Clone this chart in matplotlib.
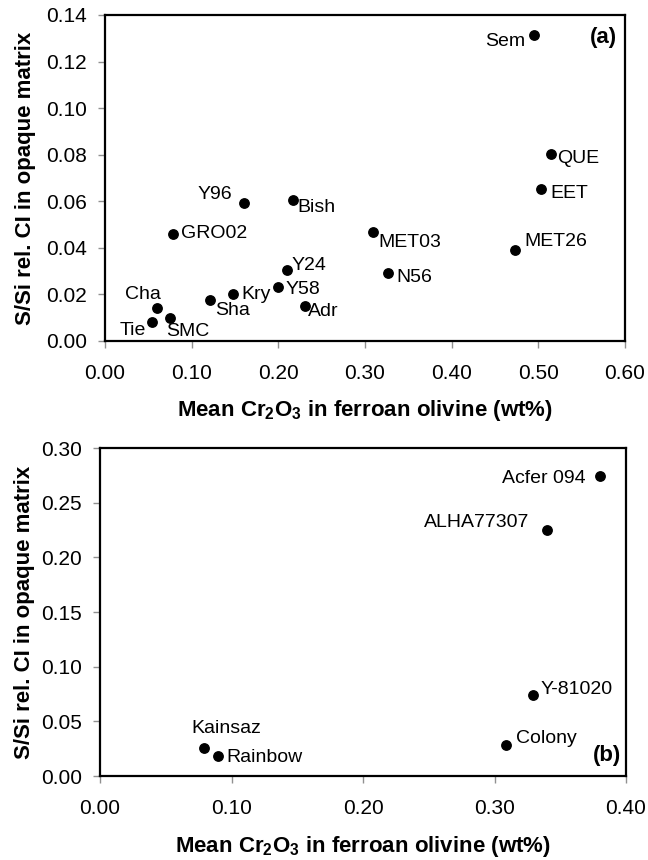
import matplotlib
matplotlib.use("Agg")
import matplotlib.pyplot as plt

plt.rcParams["font.family"] = ["Liberation Sans", "DejaVu Sans"]
plt.rcParams["mathtext.fontset"] = "custom"
plt.rcParams["mathtext.rm"] = "Liberation Sans:bold"
plt.rcParams["mathtext.bf"] = "Liberation Sans:bold"
plt.rcParams["mathtext.default"] = "bf"

# panel (a): CM/CO/CR-type chondrites
a_names = ["Sem", "QUE", "EET", "MET26", "MET03", "N56", "Y96", "Bish", "GRO02",
           "Y24", "Y58", "Kry", "Sha", "Adr", "Cha", "SMC", "Tie"]
a_cr2o3 = [0.495, 0.515, 0.503, 0.473, 0.309, 0.327, 0.160, 0.217, 0.079,
           0.210, 0.200, 0.148, 0.121, 0.231, 0.060, 0.075, 0.054]
a_ssi = [0.1314, 0.0802, 0.0652, 0.0390, 0.0469, 0.0292, 0.0592, 0.0605, 0.0460,
         0.0304, 0.0232, 0.0203, 0.0178, 0.0149, 0.0140, 0.0099, 0.0080]

# panel (b)
b_names = ["Acfer 094", "ALHA77307", "Y-81020", "Colony", "Kainsaz", "Rainbow"]
b_cr2o3 = [0.380, 0.340, 0.329, 0.309, 0.079, 0.090]
b_ssi = [0.2746, 0.2252, 0.0742, 0.0284, 0.0253, 0.0186]

# label placement: (dx pt, dy pt, ha)
a_offsets = {
    "Sem": (-6, -5, "right"), "QUE": (4, -3, "left"), "EET": (7, -3, "left"),
    "MET26": (7, 6, "left"), "MET03": (4, -8, "left"), "N56": (6, -3, "left"),
    "Y96": (-8, 6.5, "right"), "Bish": (3, -5, "left"), "GRO02": (5.5, 0, "left"),
    "Y24": (3.5, 3.5, "left"), "Y58": (5, -2, "left"), "Kry": (6, -0.5, "left"),
    "Sha": (4, -8, "left"), "Adr": (2, -4, "left"), "Cha": (3, 10, "right"),
    "SMC": (-3, -9.5, "left"), "Tie": (-4, -6, "right"),
}
b_offsets = {
    "Acfer 094": (-10, -2, "right"), "ALHA77307": (-13, 5, "right"),
    "Y-81020": (6, 4, "left"), "Colony": (7, 5, "left"),
    "Kainsaz": (16, 14, "center"), "Rainbow": (6, -1, "left"),
}

W, H = 648, 860
fig = plt.figure(figsize=(W / 100, H / 100), dpi=100)


def px_axes(left, top, right, bottom):
    return fig.add_axes([left / W, 1 - bottom / H, (right - left) / W, (bottom - top) / H])


def style(ax, xmax, ymax, ystep, xlab_y, ylab_x):
    ax.set_xlim(0, xmax)
    ax.set_ylim(0, ymax)
    ax.set_xticks([i * 0.1 for i in range(int(round(xmax / 0.1)) + 1)])
    n = int(round(ymax / ystep))
    ax.set_yticks([i * ystep for i in range(n + 1)])
    ax.xaxis.set_major_formatter(plt.FormatStrFormatter("%.2f"))
    ax.yaxis.set_major_formatter(plt.FormatStrFormatter("%.2f"))
    for s in ax.spines.values():
        s.set_linewidth(1.6)
        s.set_color("black")
    ax.tick_params(axis="both", direction="out", length=5, width=1, color="#909090",
                   labelsize=15)
    ax.tick_params(axis="x", pad=11.5)
    ax.tick_params(axis="y", pad=8)
    ax.set_xlabel("Mean Cr$_2$O$_3$ in ferroan olivine (wt%)", fontsize=16,
                  fontweight="bold")
    ax.set_ylabel("S/Si rel. CI in opaque matrix", fontsize=16, fontweight="bold")
    ax.xaxis.label.set_verticalalignment("center")
    ax.yaxis.label.set_verticalalignment("center")
    ax.xaxis.set_label_coords(0.5, xlab_y)
    ax.yaxis.set_label_coords(ylab_x, 0.5)


def label_points(ax, names, xs, ys, offsets):
    for name, x, y in zip(names, xs, ys):
        dx, dy, ha = offsets[name]
        ax.annotate(name, (x, y), xytext=(dx, dy), textcoords="offset points",
                    ha=ha, va="center", fontsize=14)


ax1 = px_axes(105, 15, 625, 341)
ax1.scatter(a_cr2o3, a_ssi, s=46, color="black", zorder=3, clip_on=False)
label_points(ax1, a_names, a_cr2o3, a_ssi, a_offsets)
style(ax1, 0.6, 0.14, 0.02, -0.212, -0.152)
ax1.text(0.985, 0.93, "(a)", transform=ax1.transAxes, ha="right", va="center",
         fontsize=16, fontweight="bold")

ax2 = px_axes(100, 448, 626, 776)
ax2.scatter(b_cr2o3, b_ssi, s=46, color="black", zorder=3, clip_on=False)
label_points(ax2, b_names, b_cr2o3, b_ssi, b_offsets)
style(ax2, 0.4, 0.30, 0.05, -0.216, -0.144)
ax2.text(0.99, 0.064, "(b)", transform=ax2.transAxes, ha="right", va="center",
         fontsize=16, fontweight="bold")

fig.savefig("out.png", dpi=100)
